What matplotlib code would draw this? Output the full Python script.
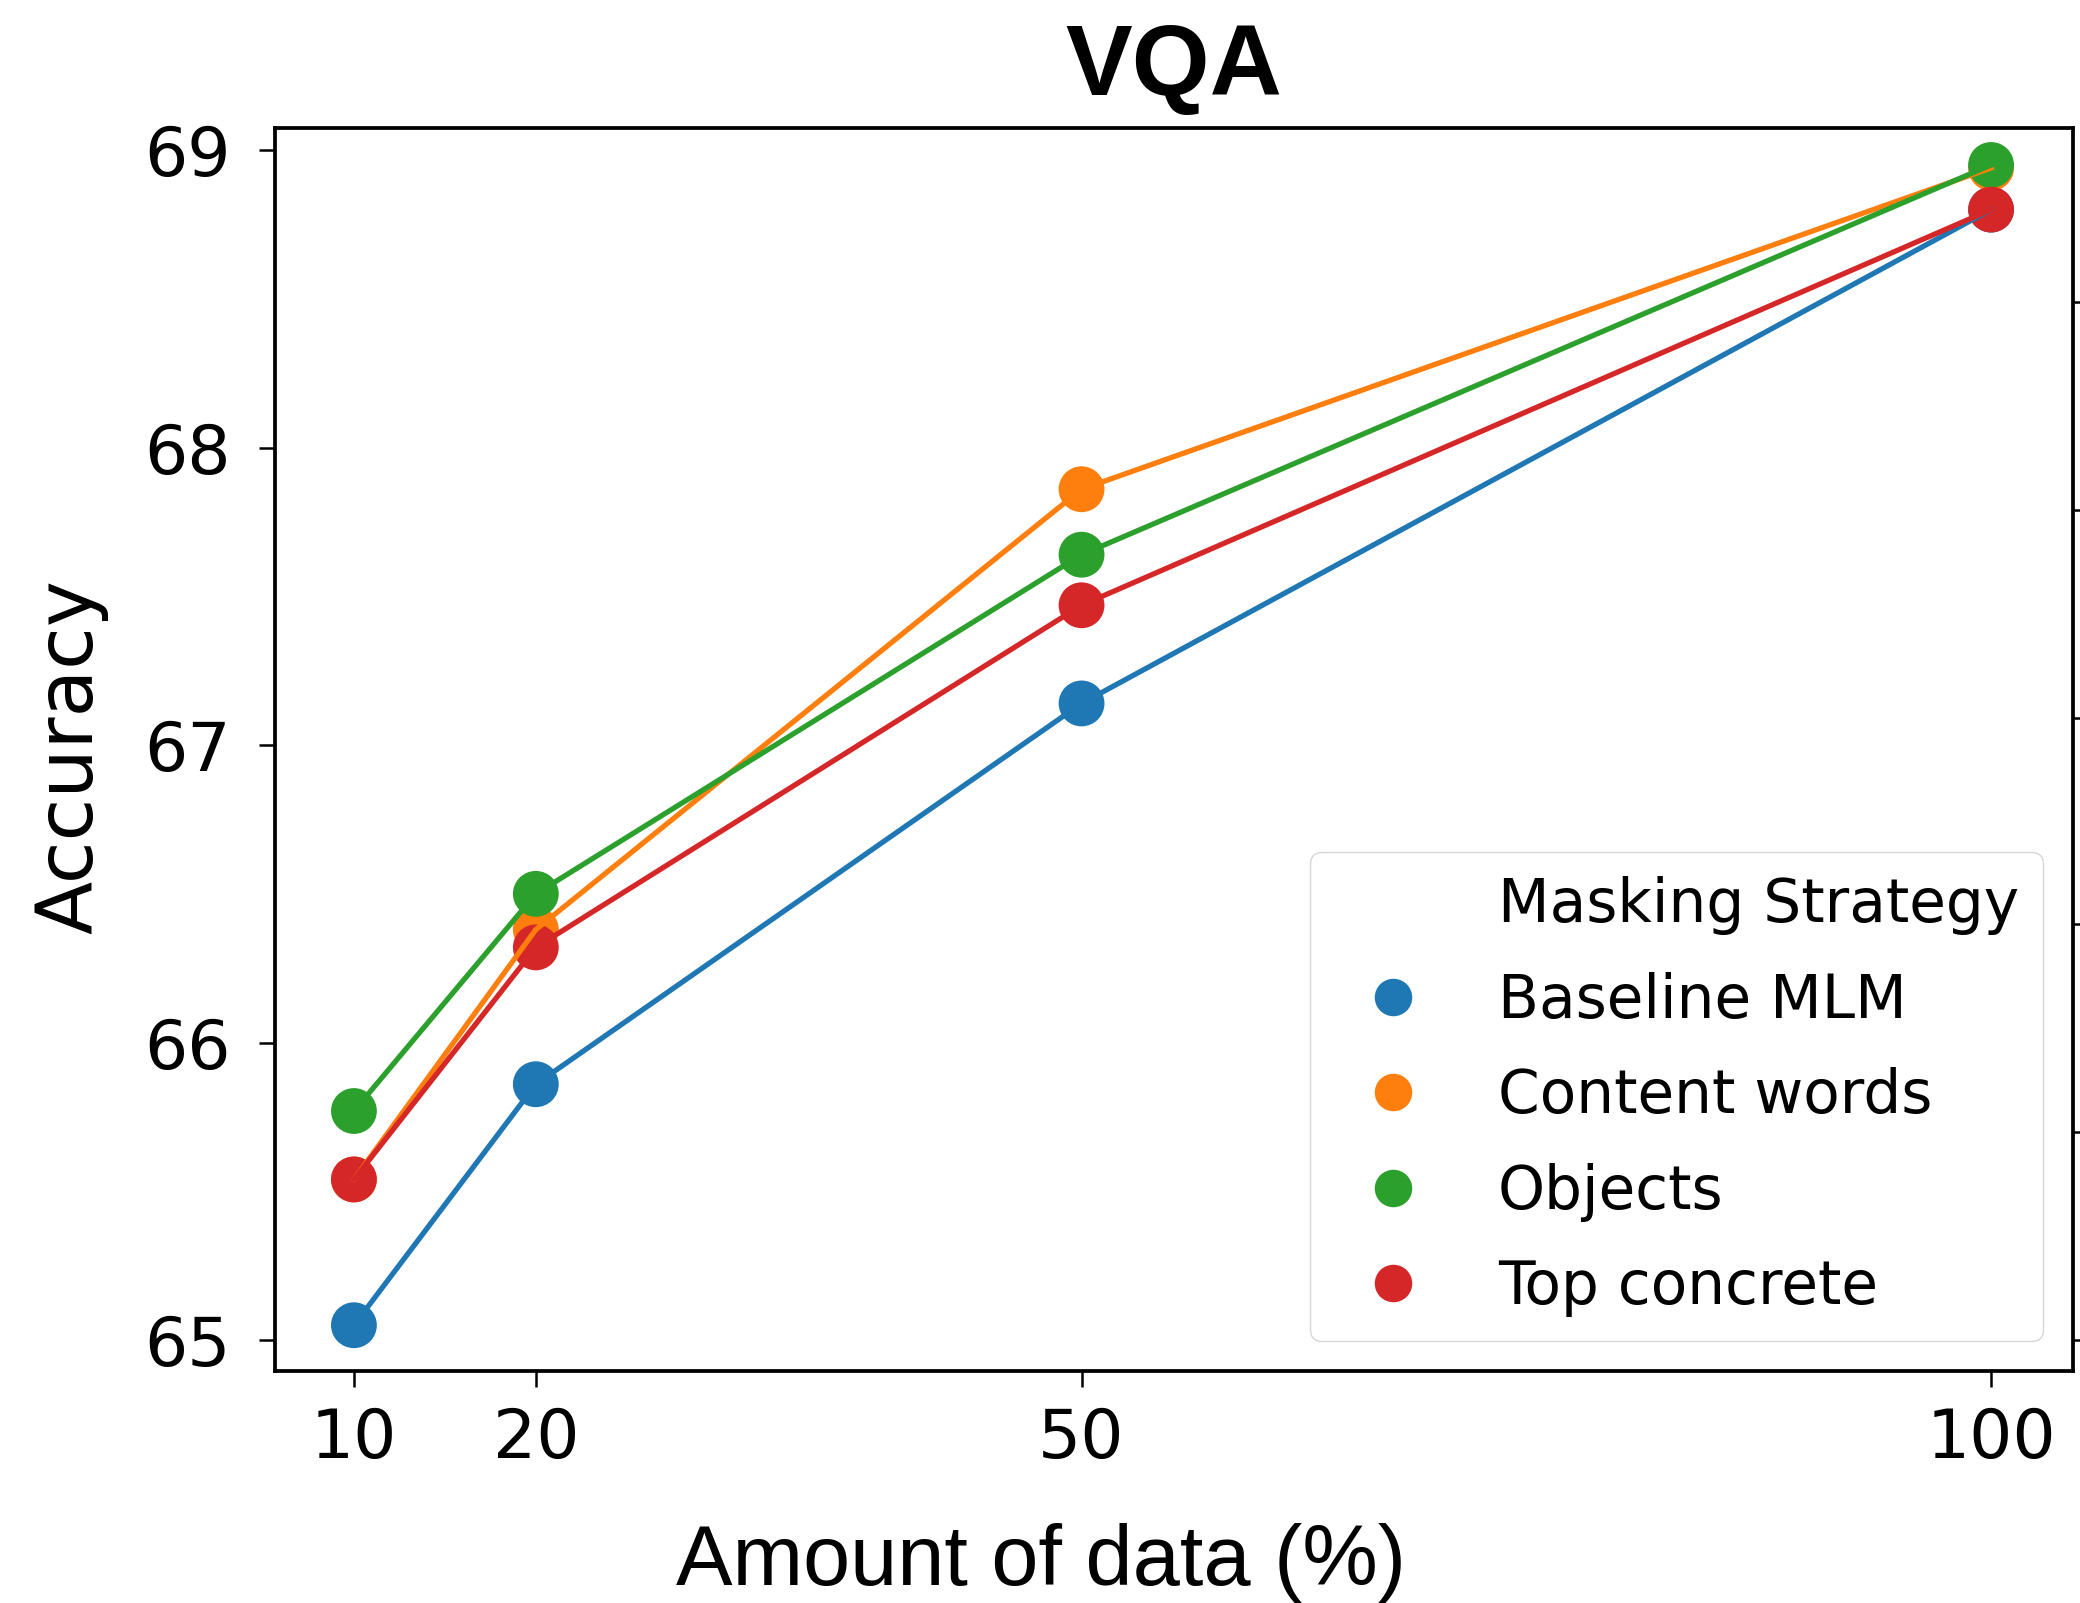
import numpy as np
import matplotlib.pyplot as plt
from matplotlib.lines import Line2D

# amount of data (%) and VQA accuracy per masking strategy
amount = [10, 20, 50, 100]
baseline_mlm = [65.05, 65.86, 67.14, 68.80]
content_words = [65.54, 66.38, 67.86, 68.94]
objects = [65.77, 66.50, 67.64, 68.95]
top_concrete = [65.54, 66.32, 67.47, 68.80]

strategies = ['Baseline MLM', 'Content words', 'Objects', 'Top concrete']
colors = ['#1f77b4', '#ff7f0e', '#2ca02c', '#d62728']
series = [baseline_mlm, content_words, objects, top_concrete]

yticks = [65, 66, 67, 68, 69]
right_ticks = [65.0, 65.7, 66.4, 67.09, 67.79, 68.49]

fig = plt.figure(figsize=(20.8, 16.03), dpi=100)
ax = fig.add_axes([0.1322, 0.1447, 0.8644, 0.7754])

for ys, c in zip(series, colors):
    ax.scatter(amount, ys, s=33**2, color=c, edgecolors='none', zorder=2)
for ys, c in zip(series, colors):
    ax.plot(amount, ys, color=c, lw=3.8, zorder=3)

ax.set_xlim(5.66, 104.5)
ax.set_ylim(64.896, 69.074)
ax.set_xticks(amount)
ax.set_yticks(yticks)
ax.tick_params(axis='both', labelsize=49, length=11.5, width=1.8)
ax.tick_params(axis='y', pad=20)
ax.tick_params(axis='x', pad=14)
for sp in ax.spines.values():
    sp.set_linewidth(2.7)

# ticks of the neighbouring panel's axis on the right spine
ax2 = ax.twinx()
ax2.set_ylim(ax.get_ylim())
ax2.set_yticks(right_ticks)
ax2.set_yticklabels([])
ax2.tick_params(axis='y', length=11.5, width=1.8)
for sp in ax2.spines.values():
    sp.set_visible(False)

handles = [Line2D([], [], linestyle='none', marker='o', markersize=0, color='none')]
handles += [Line2D([], [], linestyle='none', marker='o', markersize=27,
                   markerfacecolor=c, markeredgecolor='none') for c in colors]
labels = ['Masking Strategy'] + strategies
ax.legend(handles, labels, loc='lower right', bbox_to_anchor=(0.9833, 0.0242),
          borderaxespad=0, fontsize=43, handlelength=2.0, handletextpad=0.75,
          labelspacing=0.61, borderpad=0.4)

fig.text(1174 / 2080, 1 - 95 / 1603, 'VQA', ha='center', va='baseline',
         fontsize=72, fontweight='bold', family='Liberation Sans')
fig.text(1041 / 2080, 1 - 1585 / 1603, 'Amount of data (%)', ha='center',
         va='baseline', fontsize=61, family='Liberation Sans')
fig.text(70 / 2080, 1 - 757 / 1603, 'Accuracy', rotation=90, ha='center',
         va='center', fontsize=56)

fig.savefig('out.png', dpi=100)
